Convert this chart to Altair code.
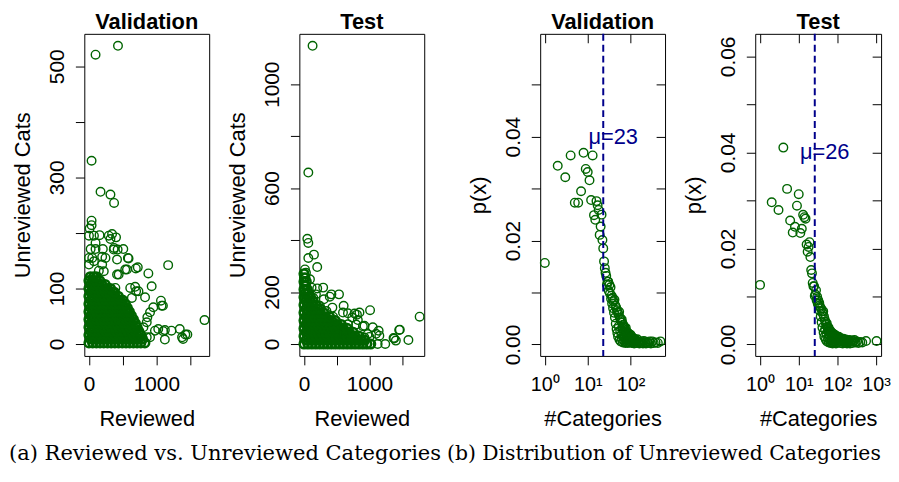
import altair as alt
import pandas as pd

FONT = "Liberation Sans"
SERIF = "DejaVu Serif"
GREEN = "#006400"
NAVY = "#00008B"

panel_titles = ["Validation", "Test", "Validation", "Test"]
scatter_x_title = "Reviewed"
scatter_y_title = "Unreviewed Cats"
dist_x_title = "#Categories"
dist_y_title = "p(x)"
caption_a = "(a) Reviewed vs. Unreviewed Categories"
caption_b = "(b) Distribution of Unreviewed Categories"

# ---------------- tick values ----------------
sc_xticks = [0, 500, 1000, 1500]
val_sc_yticks = [0, 100, 200, 300, 400, 500]
test_sc_yticks = [0, 200, 400, 600, 800, 1000]
val_dist_xticks = [1, 10, 100]
test_dist_xticks = [1, 10, 100, 1000]
val_dist_yticks = [0, 0.01, 0.02, 0.03, 0.04, 0.05]
test_dist_yticks = [0, 0.01, 0.02, 0.03, 0.04, 0.05, 0.06]

# ---------------- (a) Validation scatter ----------------
val_out_x = [431, 98, 39, 172, 319, 373, 39, 39, 10, 0, 74, 98, 157, 294, 343, 402, 319, 373,
             510, 578, 1176, 539, 696, 725, 882, 931, 25, 98, 206, 245, 0, 417, 417, 686, 735,
             833, 1069, 1098, 956, 867, 858, 980, 1127, 1225, 1348, 1397, 1461, 1716, 1127, 858,
             760, 1029, 907, 613, 637, 392, 147, 74, 196, 0, 441, 368, 426, 49, 196, 220, 809,
             907, 700, 588, 564, 1078, 1382, 1431, 1103]
val_out_y = [537, 521, 330, 274, 269, 254, 222, 214, 208, 195, 195, 182, 196, 195, 198, 192, 189, 173,
             171, 155, 142, 134, 136, 138, 127, 104, 171, 171, 171, 155, 155, 152, 125, 103, 95,
             84, 78, 69, 66, 48, 39, 24, 25, 24, 27, 9, 17, 43, 8, 12,
             18, 27, 57, 101, 83, 101, 132, 149, 143, 143, 125, 170, 170, 155, 157, 131, 30,
             12, 95, 154, 134, 69, 12, 17, 23]
# dense core, read row by row
val_core_y = [2, 9, 16, 23, 30, 37, 44, 51, 58, 65, 72, 79, 86, 93, 100, 107, 114, 121]
val_core_x = [
    [0, 55, 110, 165, 220, 275, 330, 385, 440, 495, 550, 605, 660, 715, 770, 830],
    [25, 80, 135, 190, 245, 300, 355, 410, 465, 520, 575, 630, 685, 740, 795],
    [0, 55, 110, 165, 220, 275, 330, 385, 440, 495, 550, 605, 660, 715, 770],
    [25, 80, 135, 190, 245, 300, 355, 410, 465, 520, 575, 630, 685, 740],
    [0, 55, 110, 165, 220, 275, 330, 385, 440, 495, 550, 605, 660, 715],
    [25, 80, 135, 190, 245, 300, 355, 410, 465, 520, 575, 630, 690],
    [0, 55, 110, 165, 220, 275, 330, 385, 440, 495, 550, 605, 660],
    [25, 80, 135, 190, 245, 300, 355, 410, 465, 520, 575, 630],
    [0, 55, 110, 165, 220, 275, 330, 385, 440, 495, 550, 600],
    [25, 80, 135, 190, 245, 300, 355, 410, 465, 520, 570],
    [0, 55, 110, 165, 220, 275, 330, 385, 440, 495, 540],
    [25, 80, 135, 190, 245, 300, 355, 410, 465, 500],
    [0, 55, 110, 165, 220, 275, 330, 385, 435],
    [25, 80, 135, 190, 245, 300, 355, 380],
    [0, 55, 110, 165, 220, 275, 320],
    [25, 80, 135, 190, 240],
    [0, 55, 110, 160],
    [20, 70, 110],
]

# ---------------- (a) Test scatter ----------------
test_out_x = [131, 66, 51, 66, 152, 66, 202, 15, 30, 0, 91, 202, 182, 419, 535, 303, 434, 606,
              596, 773, 848, 1010, 444, 737, 823, 924, 1051, 1141, 1455, 1768, 1369, 1404, 1596,
              1242, 1126, 1010, 924, 798, 1152, 975, 672, 596, 495, 343, 242, 141, 15, 15, 116,
              293, 30, 394, 809, 1101, 1000, 900, 798, 672, 1465, 1379]
test_out_y = [1148, 660, 405, 389, 344, 331, 296, 287, 274, 255, 249, 214, 191, 191, 191, 172, 140, 147,
              121, 117, 121, 130, 105, 102, 92, 70, 64, 51, 54, 105, 23, 13, 15,
              0, 0, 0, 25, 0, 32, 38, 76, 51, 38, 127, 147, 178, 204, 229, 217,
              217, 178, 182, 113, 39, 27, 68, 75, 118, 55, 21]
test_core_y = [0, 15, 30, 45, 60, 75, 90, 105, 120, 135, 150, 165, 180, 195, 210, 225, 240, 255, 270]
test_core_x = [
    [0, 60, 120, 180, 240, 300, 360, 420, 480, 540, 600, 660, 720, 780, 840, 900, 960, 1020],
    [30, 90, 150, 210, 270, 330, 390, 450, 510, 570, 630, 690, 750, 810, 870, 930],
    [0, 60, 120, 180, 240, 300, 360, 420, 480, 540, 600, 660, 720, 780, 840],
    [30, 90, 150, 210, 270, 330, 390, 450, 510, 570, 630, 690, 750],
    [0, 60, 120, 180, 240, 300, 360, 420, 480, 540, 600, 660],
    [30, 90, 150, 210, 270, 330, 390, 450, 510, 570],
    [0, 60, 120, 180, 240, 300, 360, 420, 480],
    [30, 90, 150, 210, 270, 330, 390],
    [0, 60, 120, 180, 240, 300],
    [30, 90, 150, 210, 250],
    [0, 60, 120, 180],
    [30, 90, 140],
    [0, 60, 100],
    [20, 70],
    [0, 50],
    [20],
    [0, 35],
    [15],
    [0],
]

# ---------------- (b) Validation distribution ----------------
val_k = list(range(1, 30)) + [
    30, 31, 32, 33, 34, 35, 36, 37, 38, 39, 40, 41, 42, 43, 44, 45, 46, 47, 48, 49,
    50, 51, 52, 53, 54, 55, 56, 57, 58, 59, 60, 61, 62, 63, 64, 65, 66, 67, 68, 69,
    70, 71, 72, 73, 74, 75, 76, 77, 78, 79, 80, 81, 82, 83, 84, 85, 86, 87, 88, 89,
    90, 92, 94, 95, 97, 99, 100, 102, 104, 106, 108, 110, 112, 115, 118, 121, 124, 127,
    130, 134, 138, 143, 148, 154, 160, 167, 175, 184, 194, 204, 215, 228, 242, 258, 276,
    296, 318, 345, 380, 430, 494]
val_p = [0.0157, 0.0344, 0.0322, 0.0364, 0.0273, 0.0273, 0.0295, 0.0369, 0.0338, 0.0332,
         0.0316, 0.0278, 0.0364, 0.0249, 0.0240, 0.0276, 0.0268, 0.0259, 0.0211, 0.0227,
         0.0250, 0.0201, 0.0185, 0.0160, 0.0147, 0.0138, 0.0132, 0.0115, 0.0121,
         0.0121, 0.0103, 0.0115, 0.0098, 0.0110, 0.0088, 0.0094, 0.0079, 0.0090, 0.0070,
         0.0083, 0.0061, 0.0086, 0.0052, 0.0075, 0.0040, 0.0071, 0.0030, 0.0066, 0.0022,
         0.0062, 0.0015, 0.0058, 0.0035, 0.0063, 0.0009, 0.0052, 0.0027, 0.0049, 0.0006,
         0.0045, 0.0019, 0.0048, 0.0011, 0.0042, 0.0031, 0.0004, 0.0038, 0.0016, 0.0035,
         0.0024, 0.0007, 0.0033, 0.0013, 0.0029, 0.0003, 0.0027, 0.0032, 0.0009, 0.0021,
         0.0025, 0.0005, 0.0017, 0.0023, 0.0011, 0.0020, 0.0003, 0.0014, 0.0022, 0.0007,
         0.0018, 0.0012, 0.0004, 0.0016, 0.0009, 0.0019, 0.0013, 0.0006, 0.0015, 0.0003,
         0.0011, 0.0014, 0.0005, 0.0012, 0.0008, 0.0002, 0.0010, 0.0006,
         0.0009, 0.0003, 0.0007, 0.0010, 0.0004, 0.0006, 0.0002, 0.0005, 0.0003, 0.0006,
         0.0002, 0.0007, 0.0004, 0.0002, 0.0005, 0.0003, 0.0006,
         0.0002, 0.0006, 0.0003, 0.0004, 0.0003, 0.0006]

# ---------------- (b) Test distribution ----------------
test_k = list(range(1, 30)) + [
    30, 31, 32, 33, 34, 35, 36, 37, 38, 39, 40, 41, 42, 43, 44, 45, 46, 47, 48, 49,
    50, 51, 52, 53, 54, 55, 56, 57, 58, 59, 60, 61, 62, 63, 64, 65, 66, 67, 68, 69,
    70, 71, 72, 73, 74, 75, 76, 77, 78, 79, 80, 82, 84, 86, 88, 90, 92, 94, 96, 98,
    100, 103, 106, 109, 112, 115, 118, 121, 125, 129, 133, 137, 142, 147, 152, 158, 164,
    170, 177, 185, 193, 202, 212, 222, 233, 245, 258, 276, 295, 320, 350, 390, 440, 550, 1030]
test_p = [0.0124, 0.0296, 0.0280, 0.0410, 0.0324, 0.0258, 0.0233, 0.0245, 0.0289, 0.0313,
          0.0232, 0.0241, 0.0270, 0.0265, 0.0262, 0.0208, 0.0193, 0.0203, 0.0213, 0.0182,
          0.0155, 0.0148, 0.0128, 0.0121, 0.0121, 0.0101, 0.0104, 0.0113, 0.0092,
          0.0099, 0.0085, 0.0092, 0.0080, 0.0086, 0.0070, 0.0078, 0.0058, 0.0075, 0.0046,
          0.0069, 0.0035, 0.0064, 0.0069, 0.0025, 0.0058, 0.0016, 0.0052, 0.0031, 0.0047,
          0.0010, 0.0041, 0.0022, 0.0044, 0.0006, 0.0037, 0.0028, 0.0033, 0.0013, 0.0035,
          0.0004, 0.0030, 0.0019, 0.0027, 0.0008, 0.0029, 0.0024, 0.0003, 0.0022, 0.0021,
          0.0012, 0.0025, 0.0005, 0.0020, 0.0016, 0.0002, 0.0019, 0.0009, 0.0022, 0.0014,
          0.0004, 0.0018, 0.0011, 0.0020, 0.0006, 0.0016, 0.0002, 0.0013, 0.0017, 0.0008,
          0.0015, 0.0004, 0.0012, 0.0016, 0.0007, 0.0011, 0.0003, 0.0013, 0.0011, 0.0006,
          0.0009, 0.0002, 0.0012, 0.0005, 0.0008, 0.0003, 0.0010,
          0.0006, 0.0002, 0.0008, 0.0004, 0.0009, 0.0002, 0.0006, 0.0008, 0.0003, 0.0007,
          0.0009, 0.0004, 0.0006, 0.0003, 0.0005, 0.0004, 0.0007, 0.0007]

val_mean = 23
test_mean = 26
mean_label_y = 0.04

# ---------------- styling ----------------
PT = dict(shape="circle", filled=False, size=75, strokeWidth=1.4, color=GREEN, opacity=1)
PT_CORE = dict(shape="circle", filled=False, size=75, strokeWidth=2.6, color=GREEN, opacity=1)
AX = dict(grid=False, domain=False, ticks=True, tickSize=9, tickColor="black", tickWidth=1,
          labelFont=FONT, labelColor="black", labelOverlap=False,
          titleFont=FONT, titleFontSize=22, titleFontWeight="normal", titleColor="black")
VIEW = alt.ViewBackground(stroke="black", strokeWidth=1)
H = 325


def title_layer(t, w):
    return alt.Chart(pd.DataFrame({"t": [t]})).mark_text(
        font=FONT, fontSize=22, fontWeight="bold", color="black",
        align="center", baseline="alphabetic").encode(
        x=alt.value(w / 2), y=alt.value(-5), text="t:N")


def bottom_axis(values, expr, fmt, title, fs=21):
    return alt.Axis(values=values, labelExpr=expr, format=fmt, title=title, orient="bottom",
                    labelBaseline="alphabetic", labelPadding=26, labelAlign="center",
                    labelFontSize=fs, titleBaseline="alphabetic", titleY=70, **AX)


def left_axis(values, expr, fmt, title):
    return alt.Axis(values=values, labelExpr=expr, format=fmt, title=title, orient="left",
                    labelAngle=270, labelAlign="center", labelBaseline="alphabetic",
                    labelPadding=12, labelFontSize=21, titleAngle=270,
                    titleBaseline="alphabetic", titleAlign="center", titleX=-55, **AX)


def inner_axis(values, orient):
    return alt.Axis(values=values, orient=orient, offset=-9, labels=False, domain=False,
                    grid=False, ticks=True, tickSize=9, tickColor="black", tickWidth=1,
                    title=None)


def core_df(core_y, core_x):
    xs, ys = [], []
    for yv, xl in zip(core_y, core_x):
        xs += list(xl)
        ys += [yv] * len(xl)
    return pd.DataFrame({"x": xs, "y": ys})


def scatter(core, out_x, out_y, title, xdom, ydom, yticks, yexpr, w, extra=None):
    xs = alt.Scale(domain=xdom, nice=False, zero=False)
    ys = alt.Scale(domain=ydom, nice=False, zero=False)
    pts_core = alt.Chart(core).mark_point(**PT_CORE).encode(
        x=alt.X("x:Q", scale=xs,
                axis=bottom_axis(sc_xticks, "datum.value == 0 || datum.value == 1000 ? datum.label : ''",
                                 "d", scatter_x_title)),
        y=alt.Y("y:Q", scale=ys, axis=left_axis(yticks, yexpr, "d", scatter_y_title)),
    )
    pts_out = alt.Chart(pd.DataFrame({"x": out_x, "y": out_y})).mark_point(**PT).encode(
        x=alt.X("x:Q", scale=xs), y=alt.Y("y:Q", scale=ys))
    layers = [pts_core, pts_out, title_layer(title, w)] + ([extra] if extra is not None else [])
    return alt.layer(*layers).properties(width=w, height=H, view=VIEW)


def dist(k, p, mean, title, xdom, ydom, xticks, yticks, w, extra=None):
    df = pd.DataFrame({"k": k, "p": p})
    mdf = pd.DataFrame({"m": [mean], "ly": [mean_label_y], "lab": ["\u03bc=" + str(mean)]})
    xs = alt.Scale(type="log", domain=xdom, nice=False)
    ys = alt.Scale(domain=ydom, nice=False, zero=False)
    xexpr = ("datum.value < 5 ? '10\u2070' : datum.value < 50 ? '10\u00b9' : "
             "datum.value < 500 ? '10\u00b2' : '10\u00b3'")
    yexpr = "round(datum.value * 100) % 2 == 0 ? datum.label : ''"
    pts = alt.Chart(df).mark_point(**PT).encode(
        x=alt.X("k:Q", scale=xs, axis=bottom_axis(xticks, xexpr, "d", dist_x_title, fs=20)),
        y=alt.Y("p:Q", scale=ys, axis=left_axis(yticks, yexpr, ".2f", dist_y_title)),
    )
    rule = alt.Chart(mdf).mark_rule(color=NAVY, strokeWidth=2, strokeDash=[7, 4]).encode(
        x=alt.X("m:Q", scale=xs, axis=None))
    txt = alt.Chart(mdf).mark_text(font=FONT, fontSize=22, color=NAVY, dx=10,
                                   align="center", baseline="middle").encode(
        x=alt.X("m:Q", scale=xs, axis=inner_axis(xticks, "top")),
        y=alt.Y("ly:Q", scale=ys, axis=inner_axis(yticks, "right")),
        text="lab:N")
    layers = [pts, rule, txt, title_layer(title, w)] + ([extra] if extra is not None else [])
    return (alt.layer(*layers)
            .resolve_scale(x="shared", y="shared")
            .resolve_axis(x="independent", y="independent")
            .properties(width=w, height=H, view=VIEW))


def spacer(w):
    return alt.Chart(pd.DataFrame({"s": [0]})).mark_point(opacity=0).encode(
        x=alt.value(0), y=alt.value(0)).properties(
        width=w, height=H, view=alt.ViewBackground(strokeOpacity=0))


cap_a = alt.Chart(pd.DataFrame({"t": [caption_a]})).mark_text(
    font=SERIF, fontSize=21.2, align="left", baseline="alphabetic", color="black").encode(
    x=alt.value(-76), y=alt.value(430), text="t:N")
cap_b = alt.Chart(pd.DataFrame({"t": [caption_b]})).mark_text(
    font=SERIF, fontSize=20.5, align="left", baseline="alphabetic", color="black").encode(
    x=alt.value(-94), y=alt.value(430), text="t:N")

p1 = scatter(core_df(val_core_y, val_core_x), val_out_x, val_out_y, panel_titles[0],
             [-69, 1785], [-21.5, 558.5], val_sc_yticks,
             "datum.value == 200 || datum.value == 400 ? '' : datum.label", 126, extra=cap_a)
p2 = scatter(core_df(test_core_y, test_core_x), test_out_x, test_out_y, panel_titles[1],
             [-71, 1838], [-46, 1194], test_sc_yticks,
             "datum.value == 400 || datum.value == 800 ? '' : datum.label", 126)
p3 = dist(val_k, val_p, val_mean, panel_titles[2], [0.78, 633.5], [-0.0022, 0.0598],
          val_dist_xticks, val_dist_yticks, 126, extra=cap_b)
p4 = dist(test_k, test_p, test_mean, panel_titles[3], [0.75, 1349], [-0.0024, 0.0647],
          test_dist_xticks, test_dist_yticks, 127)

chart = alt.hconcat(p1, spacer(91), p2, spacer(117), p3, spacer(91), p4,
                    spacing=0, bounds="flush", padding=0).configure_view(stroke="transparent")

chart.save("out.html", embed_options={"renderer": "svg", "actions": False})
